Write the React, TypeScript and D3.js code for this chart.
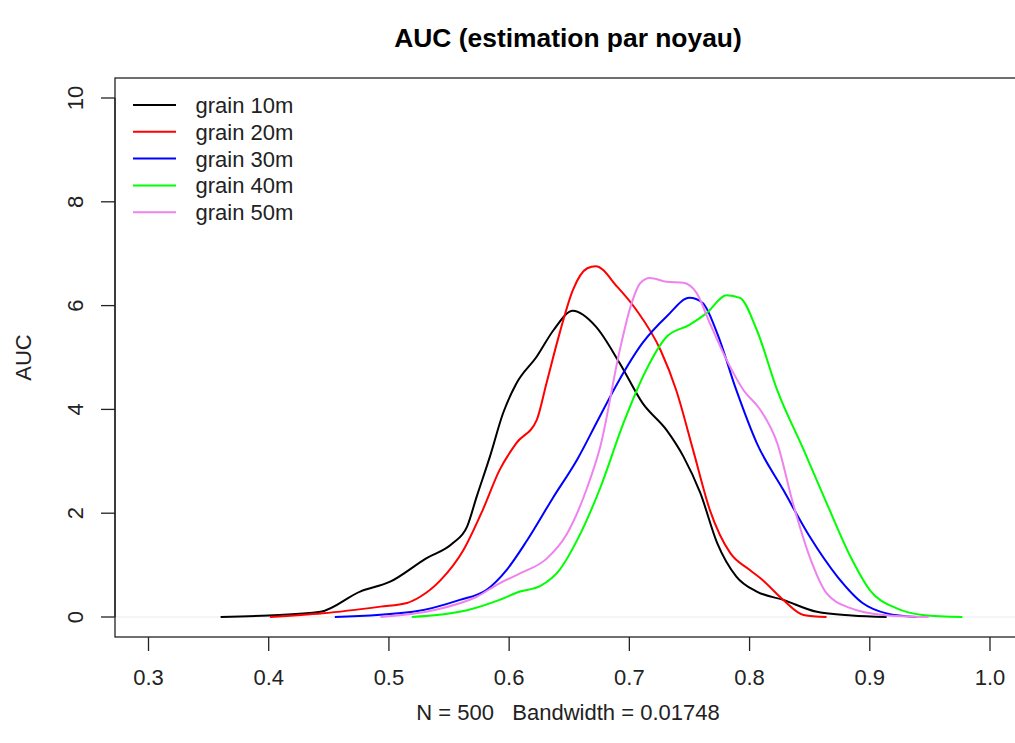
import React, { useEffect, useRef } from "react"
import * as d3 from "d3"

// density curves: [auc, density]
const grain10: [number, number][] = [
    [0.36, 0], [0.40, 0.03], [0.443, 0.1], [0.476, 0.49], [0.501, 0.68], [0.531, 1.13],
    [0.553, 1.42], [0.565, 1.74], [0.573, 2.32], [0.584, 3.09], [0.595, 3.93], [0.606, 4.5],
    [0.623, 5.02], [0.637, 5.53], [0.653, 5.9], [0.672, 5.6], [0.692, 4.89], [0.711, 4.12],
    [0.731, 3.6], [0.745, 3.09], [0.759, 2.39], [0.773, 1.43], [0.789, 0.78], [0.806, 0.49],
    [0.828, 0.33], [0.856, 0.1], [0.885, 0.03], [0.914, 0],
]
const grain20: [number, number][] = [
    [0.401, 0], [0.445, 0.07], [0.493, 0.2], [0.515, 0.27], [0.526, 0.39], [0.543, 0.71],
    [0.562, 1.29], [0.578, 2.06], [0.592, 2.83], [0.606, 3.35], [0.623, 3.8], [0.631, 4.5],
    [0.642, 5.47], [0.653, 6.3], [0.665, 6.72], [0.672, 6.76], [0.69, 6.36], [0.706, 5.91],
    [0.726, 5.14], [0.739, 4.37], [0.753, 3.22], [0.767, 2.06], [0.784, 1.23], [0.8, 0.91],
    [0.811, 0.71], [0.828, 0.33], [0.845, 0.04], [0.864, 0],
]
const grain30: [number, number][] = [
    [0.455, 0], [0.52, 0.1], [0.559, 0.33], [0.581, 0.52], [0.598, 0.91], [0.615, 1.48],
    [0.636, 2.28], [0.657, 3.05], [0.674, 3.8], [0.69, 4.5], [0.711, 5.28], [0.731, 5.79],
    [0.75, 6.15], [0.761, 6.05], [0.773, 5.47], [0.789, 4.37], [0.806, 3.35], [0.828, 2.45],
    [0.85, 1.55], [0.873, 0.78], [0.894, 0.27], [0.914, 0.07], [0.939, 0],
]
const grain40: [number, number][] = [
    [0.519, 0], [0.565, 0.13], [0.592, 0.33], [0.609, 0.49], [0.626, 0.6], [0.642, 0.91],
    [0.657, 1.5], [0.676, 2.5], [0.695, 3.73], [0.714, 4.76], [0.731, 5.4], [0.75, 5.63],
    [0.764, 5.85], [0.781, 6.2], [0.792, 6.15], [0.806, 5.53], [0.823, 4.37], [0.845, 3.22],
    [0.864, 2.2], [0.884, 1.16], [0.9, 0.52], [0.922, 0.17], [0.944, 0.04], [0.977, 0],
]
const grain50: [number, number][] = [
    [0.493, 0], [0.537, 0.13], [0.573, 0.39], [0.592, 0.65], [0.609, 0.84], [0.631, 1.12],
    [0.648, 1.6], [0.665, 2.5], [0.676, 3.3], [0.692, 5.14], [0.701, 5.98], [0.709, 6.43],
    [0.717, 6.53], [0.731, 6.46], [0.745, 6.44], [0.756, 6.24], [0.767, 5.66], [0.781, 4.95],
    [0.795, 4.37], [0.809, 3.99], [0.823, 3.35], [0.836, 2.2], [0.85, 1.16], [0.864, 0.46],
    [0.884, 0.17], [0.911, 0.04], [0.949, 0],
]

const seriesNames = ["grain 10m", "grain 20m", "grain 30m", "grain 40m", "grain 50m"]
const seriesColours = ["#000000", "#FF0000", "#0000FF", "#00FF00", "#EE82EE"]
const seriesData = [grain10, grain20, grain30, grain40, grain50]

const xTicks = [0.3, 0.4, 0.5, 0.6, 0.7, 0.8, 0.9, 1.0]
const yTicks = [0, 2, 4, 6, 8, 10]

const WIDTH = 1015
const HEIGHT = 743
const FONT = "'Liberation Sans', Arial, Helvetica, sans-serif"
const FS = 22

const App = () => {
    const svgRef = useRef<SVGSVGElement | null>(null)

    useEffect(() => {
        if (!svgRef.current) return
        const svg = d3.select(svgRef.current)
        svg.selectAll("*").remove()

        // plot region (box) in pixels; right edge runs off the picture
        const box = { left: 115, top: 78, right: 1021, bottom: 637 }
        const midX = (box.left + box.right) / 2
        const midY = (box.top + box.bottom) / 2

        const x = d3.scaleLinear().domain([0.3, 1.0]).range([148.5, 990])
        const y = d3.scaleLinear().domain([0, 10]).range([617, 98])

        svg.append("rect")
            .attr("width", WIDTH)
            .attr("height", HEIGHT)
            .attr("fill", "#ffffff")

        // title
        svg.append("text")
            .attr("x", midX)
            .attr("y", 47)
            .attr("text-anchor", "middle")
            .attr("font-family", FONT)
            .attr("font-size", FS * 1.2 + "px")
            .attr("font-weight", "bold")
            .attr("fill", "#000")
            .text("AUC (estimation par noyau)")

        // zero line
        svg.append("line")
            .attr("x1", box.left)
            .attr("x2", box.right)
            .attr("y1", y(0))
            .attr("y2", y(0))
            .attr("stroke", "#ebebeb")
            .attr("stroke-width", 1)

        // curves
        const line = d3
            .line<[number, number]>()
            .x((d) => x(d[0]))
            .y((d) => y(d[1]))
            .curve(d3.curveMonotoneX)

        svg.append("g")
            .selectAll("path")
            .data(seriesData)
            .enter()
            .append("path")
            .attr("d", (d) => line(d))
            .attr("fill", "none")
            .attr("stroke", (d, i) => seriesColours[i])
            .attr("stroke-width", 2)
            .attr("stroke-linejoin", "round")

        // box
        svg.append("rect")
            .attr("x", box.left)
            .attr("y", box.top)
            .attr("width", box.right - box.left)
            .attr("height", box.bottom - box.top)
            .attr("fill", "none")
            .attr("stroke", "#222")
            .attr("stroke-width", 1.3)

        // x axis (R style: ticks below box)
        const xAxis = svg.append("g")
        xAxis.selectAll("line.tick")
            .data(xTicks)
            .enter()
            .append("line")
            .attr("class", "tick")
            .attr("x1", (d) => x(d))
            .attr("x2", (d) => x(d))
            .attr("y1", box.bottom)
            .attr("y2", box.bottom + 14)
            .attr("stroke", "#222")
            .attr("stroke-width", 1.3)
        xAxis.selectAll("text")
            .data(xTicks)
            .enter()
            .append("text")
            .attr("x", (d) => x(d))
            .attr("y", 685)
            .attr("text-anchor", "middle")
            .attr("font-family", FONT)
            .attr("font-size", FS + "px")
            .attr("fill", "#222")
            .text((d) => d3.format(".1f")(d))

        // y axis
        const yAxis = svg.append("g")
        yAxis.append("line")
            .attr("x1", box.left)
            .attr("x2", box.left)
            .attr("y1", y(0))
            .attr("y2", y(10))
            .attr("stroke", "#222")
            .attr("stroke-width", 1.3)
        yAxis.selectAll("line.tick")
            .data(yTicks)
            .enter()
            .append("line")
            .attr("class", "tick")
            .attr("x1", box.left - 14)
            .attr("x2", box.left)
            .attr("y1", (d) => y(d))
            .attr("y2", (d) => y(d))
            .attr("stroke", "#222")
            .attr("stroke-width", 1.3)
        yAxis.selectAll("text")
            .data(yTicks)
            .enter()
            .append("text")
            .attr("transform", (d) => "translate(83," + y(d) + ") rotate(-90)")
            .attr("text-anchor", "middle")
            .attr("font-family", FONT)
            .attr("font-size", FS + "px")
            .attr("fill", "#222")
            .text((d) => String(d))

        // axis titles
        svg.append("text")
            .attr("transform", "translate(31," + midY + ") rotate(-90)")
            .attr("text-anchor", "middle")
            .attr("font-family", FONT)
            .attr("font-size", FS + "px")
            .attr("fill", "#222")
            .text("AUC")
        svg.append("text")
            .attr("x", midX)
            .attr("y", 720)
            .attr("text-anchor", "middle")
            .attr("font-family", FONT)
            .attr("font-size", FS + "px")
            .attr("fill", "#222")
            .attr("xml:space", "preserve")
            .style("white-space", "pre")
            .text("N = 500   Bandwidth = 0.01748")

        // legend (no border)
        const legend = svg.append("g")
        const rowY = (i: number) => 105 + i * 26.8
        legend.selectAll("line")
            .data(seriesNames)
            .enter()
            .append("line")
            .attr("x1", 133)
            .attr("x2", 176)
            .attr("y1", (d, i) => rowY(i))
            .attr("y2", (d, i) => rowY(i))
            .attr("stroke", (d, i) => seriesColours[i])
            .attr("stroke-width", 2)
        legend.selectAll("text")
            .data(seriesNames)
            .enter()
            .append("text")
            .attr("x", 195.5)
            .attr("y", (d, i) => rowY(i) + 8)
            .attr("font-family", FONT)
            .attr("font-size", FS + "px")
            .attr("fill", "#222")
            .text((d) => d)
    }, [])

    return (
        <svg
            ref={svgRef}
            width={WIDTH}
            height={HEIGHT}
            style={{ position: "absolute", left: 0, top: 0, display: "block" }}
        />
    )
}

export default App
